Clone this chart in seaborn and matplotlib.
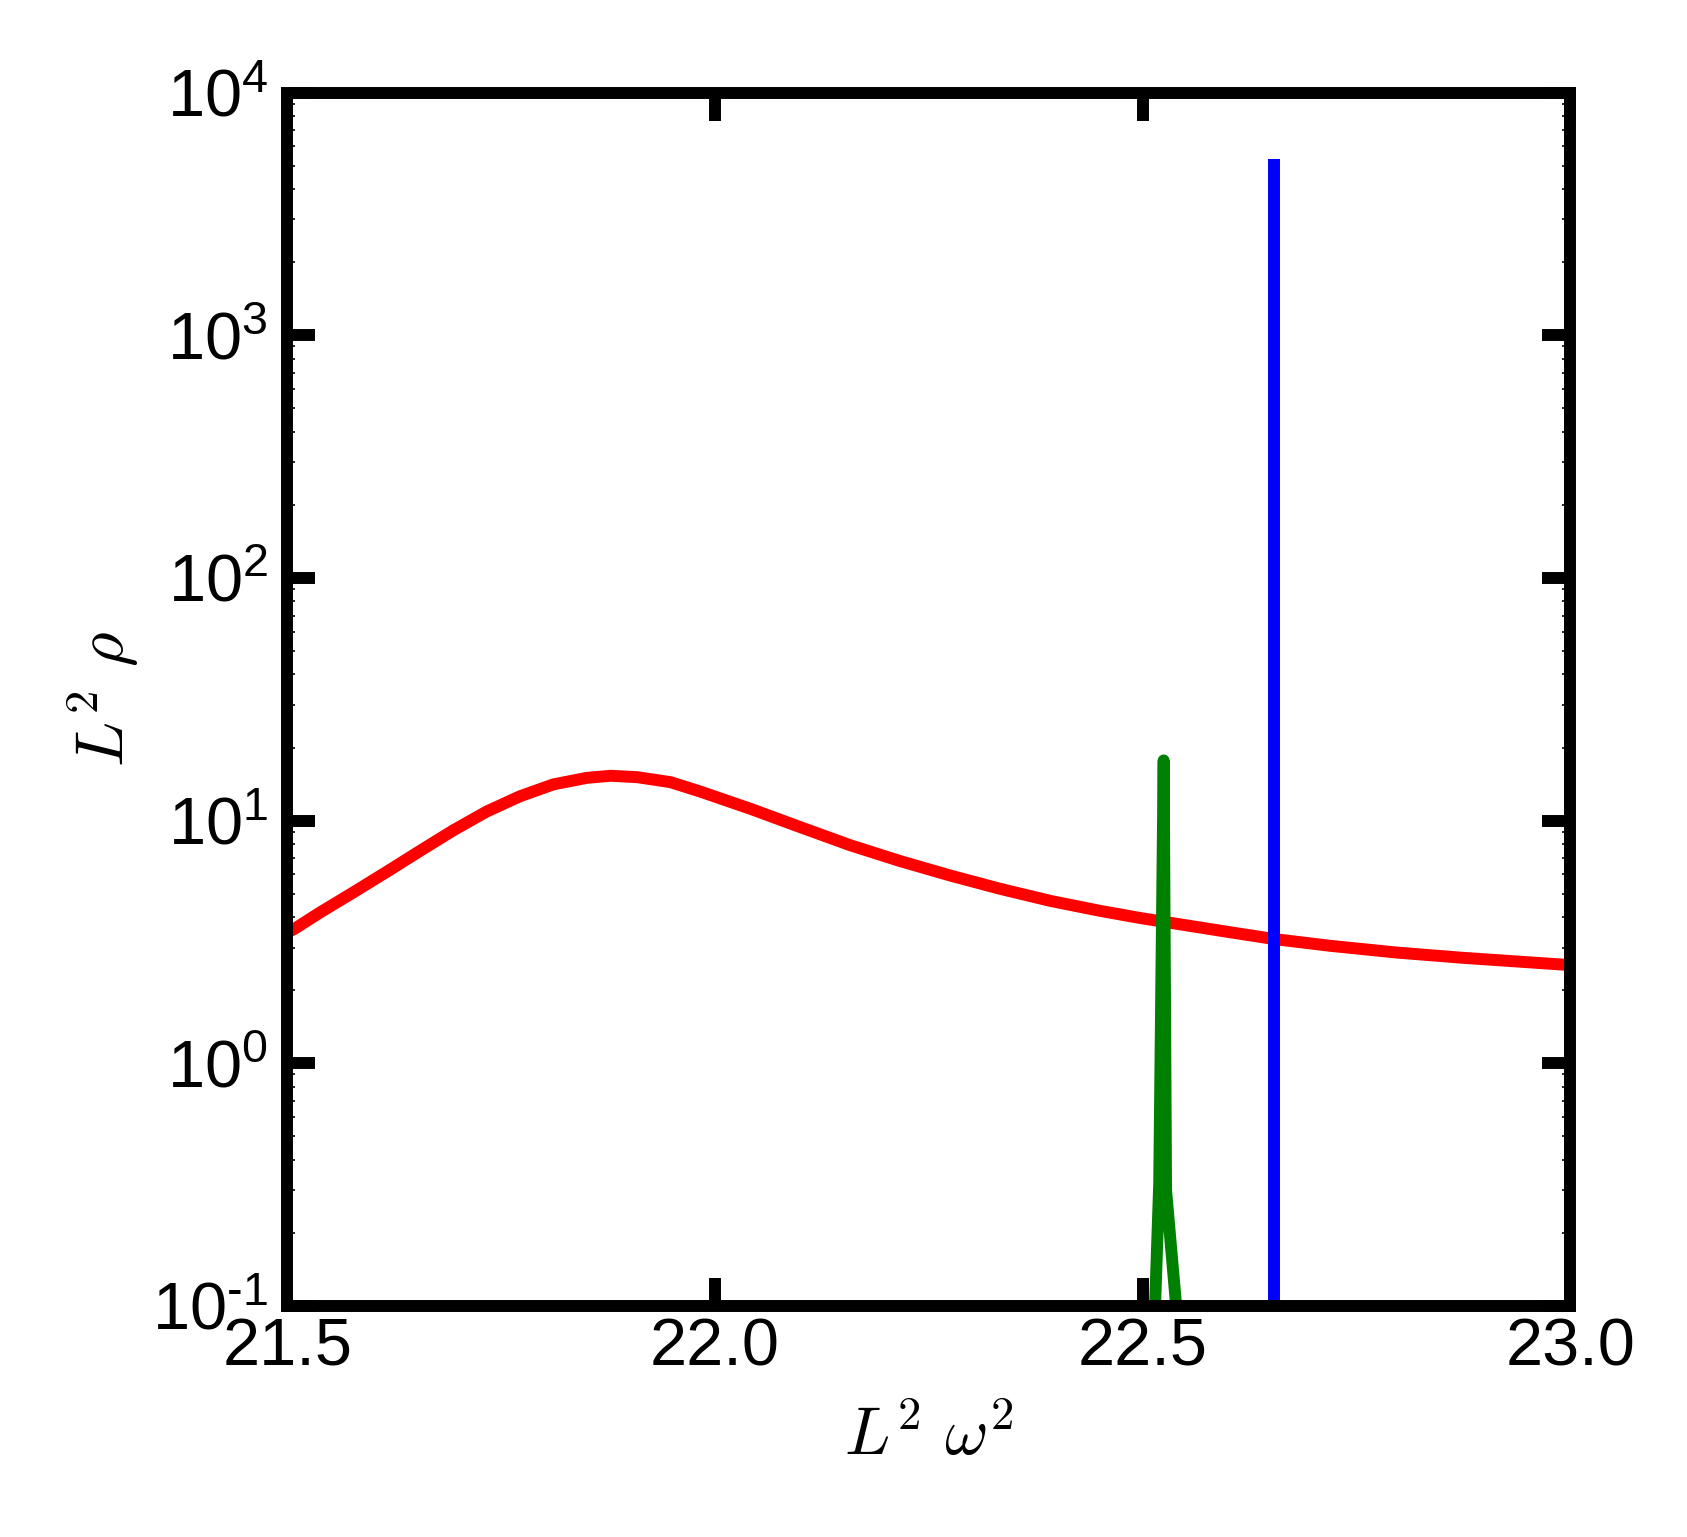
import matplotlib
matplotlib.use("Agg")
import matplotlib.pyplot as plt
import seaborn as sns
from matplotlib.ticker import LogLocator, NullLocator

# red curve (broad peak)
red_x = [21.5, 21.507, 21.538, 21.577, 21.616, 21.655, 21.694, 21.733, 21.772, 21.811,
         21.85, 21.878, 21.909, 21.948, 21.982, 22.041, 22.099, 22.158, 22.216, 22.275,
         22.333, 22.392, 22.45, 22.497, 22.595, 22.654, 22.719, 22.797, 22.875, 22.992,
         23.0]
red_y = [3.47, 3.56, 4.18, 5.06, 6.15, 7.5, 9.12, 10.9, 12.6, 14.1,
         15.0, 15.3, 15.1, 14.4, 13.2, 11.2, 9.42, 7.92, 6.82, 5.94,
         5.24, 4.67, 4.25, 3.97, 3.5, 3.25, 3.05, 2.86, 2.72, 2.55,
         2.54]

# green curve (narrow peak)
green_x = [22.505, 22.5195, 22.5247, 22.5275, 22.55]
green_y = [0.01, 0.32, 17.7, 0.30, 0.037]

# blue spike
blue_x = [22.654, 22.654]
blue_y = [0.01, 5300]

xticks = [21.5, 22.0, 22.5, 23.0]
xticklabels = ["21.5", "22.0", "22.5", "23.0"]
yticks = [0.1, 1, 10, 100, 1000, 10000]
yexps = ["\u20101", "0", "1", "2", "3", "4"]
yticklabels = ["$\\mathregular{10^{" + e + "}}$" for e in yexps]

sns.set_theme(style="white")
plt.rcParams['font.family'] = ['Liberation Sans', 'DejaVu Sans']
plt.rcParams['axes.unicode_minus'] = False

fig = plt.figure(figsize=(8.435, 7.685), dpi=200)
ax = fig.add_axes([0.1704, 0.1503, 0.9307 - 0.1704, 0.9398 - 0.1503])

lw = 4.3
sns.lineplot(x=red_x, y=red_y, color="red", linewidth=lw, sort=False, estimator=None, ax=ax)
sns.lineplot(x=green_x, y=green_y, color="green", linewidth=lw, sort=False, estimator=None, ax=ax)
sns.lineplot(x=blue_x, y=blue_y, color="blue", linewidth=lw, sort=False, estimator=None, ax=ax,
             solid_capstyle="butt")

ax.set_yscale("log")
ax.set_xlim(21.5, 23.0)
ax.set_ylim(0.1, 1e4)
ax.set_xticks(xticks)
ax.set_xticklabels(xticklabels)
ax.set_yticks(yticks)
ax.set_yticklabels(yticklabels)
ax.yaxis.set_minor_locator(LogLocator(base=10, subs=range(2, 10), numticks=20))
ax.xaxis.set_minor_locator(NullLocator())

for s in ax.spines.values():
    s.set_linewidth(lw)
    s.set_color("black")

ax.tick_params(which="major", direction="in", length=10, width=lw, labelsize=24,
               top=True, right=True, bottom=True, left=True, pad=4, colors="black")
ax.tick_params(axis="y", which="minor", direction="in", length=3, width=0.6,
               left=True, right=True, colors="black")
ax.tick_params(axis="y", which="major", pad=7)

ax.set_xlabel(r"$L^2\ \omega^2$", fontsize=24, math_fontfamily="cm", labelpad=10, color="black")
ax.set_ylabel(r"$L^2\ \rho$", fontsize=24, math_fontfamily="cm", labelpad=4, color="black")

fig.savefig("out.png", dpi=200, facecolor="white")
